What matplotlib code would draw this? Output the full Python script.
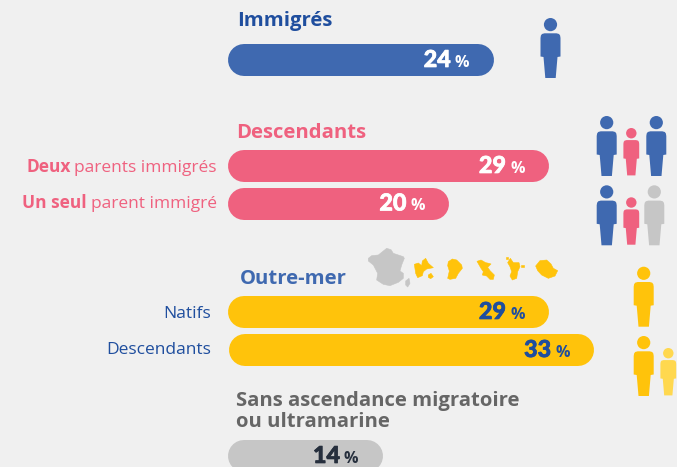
import matplotlib
matplotlib.use("Agg")
import matplotlib.pyplot as plt
import matplotlib.patheffects as pe
from matplotlib.patches import Polygon, Circle

W, H = 677, 467
BG = "#f0f0f0"
BLUE = "#3f69b0"
DARK_BLUE = "#1f4e9e"
PINK = "#ef617f"
YELLOW = "#ffc30b"
LIGHT_YELLOW = "#ffd84f"
GREY = "#c6c6c6"
GREY_TEXT = "#666666"
INK = "#262f3d"

groups = ["Immigrés", "Descendants", "Outre-mer", "Sans ascendance migratoire", "ou ultramarine"]
values = [24, 29, 20, 29, 33, 14]
row_labels = ["Natifs", "Descendants"]

# layout, in pixels of the reference
row_y = [60, 166, 203.5, 312, 350, 456]
row_shift = [0, 0, 0, 0, 1, 0]
row_colors = [BLUE, PINK, PINK, YELLOW, YELLOW, GREY]
value_colors = ["white", "white", "white", DARK_BLUE, DARK_BLUE, INK]
PX_PER_PCT = 11.07
X0 = 228
BAR_H = 32

plt.rcParams["font.family"] = ["Open Sans", "DejaVu Sans"]

fig = plt.figure(figsize=(W / 100, H / 100), dpi=100, facecolor=BG)

# pixel axes for text and pictograms
deco = fig.add_axes([0, 0, 1, 1], zorder=1)
deco.set_xlim(0, W)
deco.set_ylim(H, 0)
deco.axis("off")

# percent axes for the bars
ax = fig.add_axes([0, 0, 1, 1], zorder=2)
ax.patch.set_alpha(0)
ax.set_xlim(-X0 / PX_PER_PCT, (W - X0) / PX_PER_PCT)
ax.set_ylim(H, 0)
ax.axis("off")

cap = BAR_H / 2 / PX_PER_PCT
for v, y, dx, c, tc in zip(values, row_y, row_shift, row_colors, value_colors):
    shift = dx / PX_PER_PCT
    ax.plot([shift + cap, shift + v - cap], [y, y], color=c, lw=BAR_H * 0.72, solid_capstyle="round")
    num = ax.annotate(str(v), (v + shift, y), xytext=(-43, -7), textcoords="offset pixels", ha="right",
                      va="baseline", fontsize=16.8, fontweight=900, family=["Lato", "DejaVu Sans"], color=tc)
    num.set_path_effects([pe.withStroke(linewidth=0.5, foreground=tc)])
    ax.annotate("%", (v + shift, y), xytext=(-39, -7), textcoords="offset pixels", ha="left", va="baseline",
                fontsize=11.5, fontweight="bold", color=tc)

# group titles
TITLE = 14.6
deco.text(237, 26, groups[0], fontsize=TITLE, fontweight="bold", color=DARK_BLUE)
deco.text(236, 138, groups[1], fontsize=TITLE, fontweight="bold", color=PINK)
deco.text(240, 284, groups[2], fontsize=TITLE, fontweight="bold", color=BLUE)
deco.text(235.5, 406, groups[3], fontsize=TITLE, fontweight="bold", color=GREY_TEXT)
deco.text(235.5, 427, groups[4], fontsize=TITLE, fontweight="bold", color=GREY_TEXT)

# row labels, bold first word where the reference has one
LABEL = 12.5
deco.text(71, 171.5, "Deux", ha="right", fontsize=LABEL, fontweight="bold", color=PINK)
deco.text(217, 171.5, "parents immigrés", ha="right", fontsize=LABEL, color=PINK)
deco.text(87, 208.5, "Un seul", ha="right", fontsize=LABEL, fontweight="bold", color=PINK)
deco.text(217, 208.5, "parent immigré", ha="right", fontsize=LABEL, color=PINK)
deco.text(211, 318.5, row_labels[0], ha="right", fontsize=LABEL, color=DARK_BLUE)
deco.text(211, 353.5, row_labels[1], ha="right", fontsize=LABEL, color=DARK_BLUE)


def person(cx, top, color, s=1.0):
    deco.add_patch(Circle((cx, top + 6.6 * s), 6.6 * s, fc=color, ec="none"))
    body = [(-6, 15.3), (6, 15.3), (8.5, 16), (9.6, 17.5), (10, 20), (10, 38.5), (7, 39), (5.2, 60),
            (-5.2, 60), (-7, 39), (-10, 38.5), (-10, 20), (-9.6, 17.5), (-8.5, 16)]
    deco.add_patch(Polygon([(cx + px * s, top + py * s) for px, py in body], closed=True, fc=color, ec="none"))


person(550.5, 18, BLUE)
person(606.7, 116, BLUE)
person(631.3, 128, PINK, 0.79)
person(656.3, 116, BLUE)
person(606.7, 185.3, BLUE)
person(631.3, 197.3, PINK, 0.79)
person(654.3, 185.3, GREY)
person(643.7, 266.7, YELLOW)
person(643.7, 336, YELLOW)
person(668.3, 348, LIGHT_YELLOW, 0.79)


# map shapes, traced on 3x crops of the reference
def shape(x0, y0, points, color):
    deco.add_patch(Polygon([(x0 + x / 3, y0 + y / 3) for x, y in points], closed=True,
                           fc=color, ec=color, lw=0.4, joinstyle="round"))


shape(365, 245, [(10, 40), (20, 32), (40, 30), (50, 22), (65, 10), (78, 14), (85, 25), (115, 35), (118, 40),
                 (110, 60), (105, 78), (115, 85), (115, 100), (100, 112), (75, 122), (55, 118), (35, 105),
                 (38, 85), (25, 60), (10, 48)], GREY)
shape(365, 245, [(122, 108), (132, 100), (135, 115), (128, 126), (122, 120)], GREY)
shape(365, 245, [(148, 58), (160, 54), (170, 62), (172, 48), (182, 40), (190, 55), (205, 68), (185, 72),
                 (175, 80), (172, 92), (158, 98), (152, 85)], YELLOW)
shape(365, 245, [(190, 90), (198, 85), (205, 95), (197, 101), (190, 97)], YELLOW)
shape(365, 245, [(250, 50), (262, 42), (275, 45), (290, 60), (292, 70), (280, 85), (272, 100), (255, 103),
                 (248, 100), (253, 78), (248, 62)], YELLOW)
shape(465, 250, [(36, 34), (48, 30), (62, 38), (72, 40), (78, 42), (68, 52), (75, 62), (88, 75), (85, 88),
                 (75, 88), (65, 78), (52, 75), (55, 65), (48, 55)], YELLOW)
shape(465, 250, [(128, 38), (136, 25), (145, 38), (162, 38), (165, 50), (158, 65), (155, 85), (142, 90),
                 (135, 78), (140, 65), (135, 50)], YELLOW)
shape(465, 250, [(122, 20), (128, 20), (128, 26), (123, 26)], YELLOW)
shape(465, 250, [(168, 44), (176, 44), (176, 52), (169, 52)], YELLOW)
shape(465, 250, [(212, 48), (225, 32), (245, 30), (258, 42), (265, 55), (278, 62), (270, 78), (250, 85),
                 (230, 75), (218, 62)], YELLOW)

fig.savefig("out.png", dpi=100, facecolor=BG)
